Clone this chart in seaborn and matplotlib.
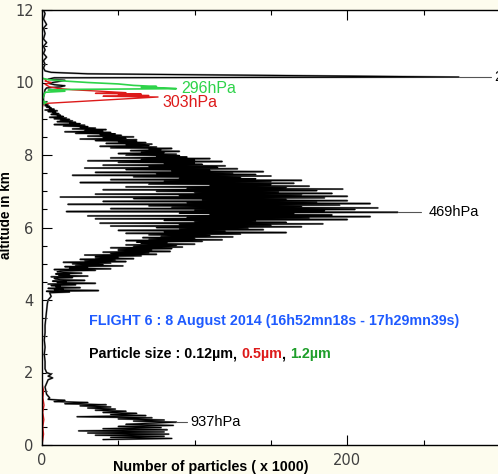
import matplotlib
matplotlib.use("Agg")
import matplotlib.pyplot as plt
from matplotlib.ticker import MultipleLocator
import pandas as pd
import seaborn as sns

# ---- 0.12 um particle counts (x1000) versus altitude (km) ----
alt_012 = [
    # boundary layer
    0.15, 0.18, 0.21, 0.24, 0.27, 0.30, 0.33, 0.36, 0.39, 0.42,
    0.45, 0.48, 0.51, 0.54, 0.57, 0.60, 0.63, 0.66, 0.69, 0.72,
    0.75, 0.78, 0.81, 0.84, 0.87, 0.90, 0.93, 0.96, 0.99, 1.02,
    1.05, 1.08, 1.11, 1.14, 1.17, 1.20, 1.23, 1.26,
    # clean free troposphere
    1.30, 1.40, 1.50, 1.60, 1.70, 1.80, 1.85, 1.90, 1.95, 2.00,
    2.10, 2.30, 2.50, 2.70, 2.90, 3.10, 3.30, 3.50, 3.70, 3.90,
    4.00, 4.10,
    # mid-tropospheric layer
    4.20, 4.22, 4.24, 4.26, 4.28, 4.30, 4.32, 4.34, 4.36, 4.38,
    4.40, 4.42, 4.44, 4.46, 4.48, 4.50, 4.52, 4.54, 4.56, 4.58,
    4.60, 4.62, 4.64, 4.66, 4.68, 4.70, 4.72, 4.74, 4.76, 4.78,
    4.80, 4.82, 4.84, 4.86, 4.88, 4.90, 4.92, 4.94, 4.96, 4.98,
    5.00, 5.02, 5.04, 5.06, 5.08, 5.10, 5.12, 5.14, 5.16, 5.18,
    5.20, 5.22, 5.24, 5.26, 5.28, 5.30, 5.32, 5.34, 5.36, 5.38,
    5.40, 5.42, 5.44, 5.46, 5.48, 5.50, 5.52, 5.54, 5.56, 5.58,
    5.60, 5.62, 5.64, 5.66, 5.68, 5.70, 5.72, 5.74, 5.76, 5.78,
    5.80, 5.82, 5.84, 5.86, 5.88, 5.90, 5.92, 5.94, 5.96, 5.98,
    6.00, 6.02, 6.04, 6.06, 6.08, 6.10, 6.12, 6.14, 6.16, 6.18,
    6.20, 6.22, 6.24, 6.26, 6.28, 6.30, 6.32, 6.34, 6.36, 6.38,
    6.40, 6.42, 6.44, 6.46, 6.48, 6.50, 6.52, 6.54, 6.56, 6.58,
    6.60, 6.62, 6.64, 6.66, 6.68, 6.70, 6.72, 6.74, 6.76, 6.78,
    6.80, 6.82, 6.84, 6.86, 6.88, 6.90, 6.92, 6.94, 6.96, 6.98,
    7.00, 7.02, 7.04, 7.06, 7.08, 7.10, 7.12, 7.14, 7.16, 7.18,
    7.20, 7.22, 7.24, 7.26, 7.28, 7.30, 7.32, 7.34, 7.36, 7.38,
    7.40, 7.42, 7.44, 7.46, 7.48, 7.50, 7.52, 7.54, 7.56, 7.58,
    7.60, 7.62, 7.64, 7.66, 7.68, 7.70, 7.72, 7.74, 7.76, 7.78,
    7.80, 7.82, 7.84, 7.86, 7.88, 7.90, 7.92, 7.94, 7.96, 7.98,
    8.00, 8.02, 8.04, 8.06, 8.08, 8.10, 8.12, 8.14, 8.16, 8.18,
    8.20, 8.22, 8.24, 8.26, 8.28, 8.30, 8.32, 8.34, 8.36, 8.38,
    8.40, 8.42, 8.44, 8.46, 8.48, 8.50, 8.52, 8.54, 8.56, 8.58,
    8.60, 8.62, 8.64, 8.66, 8.68, 8.70, 8.72, 8.74, 8.76, 8.78,
    8.80, 8.82, 8.84, 8.86, 8.88, 8.90, 8.92, 8.94, 8.96, 8.98,
    9.00, 9.02, 9.04, 9.06, 9.08, 9.10, 9.12, 9.14, 9.16, 9.18,
    9.20, 9.22, 9.24, 9.26, 9.28, 9.30, 9.32, 9.34, 9.36, 9.38,
    9.40,
    # tropopause region and above
    9.50, 9.60, 9.70, 9.80, 9.85, 9.88, 9.91, 9.94, 9.98, 10.02,
    10.06, 10.09, 10.13, 10.15, 10.24, 10.28, 10.32, 10.40, 10.50, 10.60,
    10.70, 10.80, 10.90, 11.00, 11.10, 11.20, 11.35, 11.50, 11.60, 11.75,
    11.90, 12.00,
]
n_012 = [
    40, 85, 45, 80, 35, 83, 30, 80, 24, 82,
    40, 78, 50, 86, 55, 70, 88, 60, 80, 50,
    72, 23, 68, 45, 62, 40, 55, 35, 48, 30,
    45, 25, 42, 15, 30, 8, 15, 4,
    5, 3, 2.5, 2, 3, 4, 7, 4, 6, 3,
    2, 2, 1.5, 2, 1.5, 2, 2, 2.5, 3, 3.5,
    4, 6,
    5, 18, 3, 37, 8, 14, 4, 25, 9, 12,
    6, 22, 4, 35, 10, 16, 7, 28, 12, 9,
    8, 20, 6, 30, 11, 18, 9, 26, 14, 10,
    12, 35, 8, 45, 18, 30, 15, 53, 22, 40,
    20, 45, 14, 55, 28, 48, 25, 60, 35, 50,
    35, 65, 28, 75, 45, 70, 40, 84, 50, 72,
    50, 85, 45, 92, 60, 88, 55, 100, 65, 82,
    62, 105, 55, 118, 70, 100, 66, 125, 78, 110,
    70, 130, 55, 160, 80, 120, 50, 145, 90, 135,
    75, 170, 45, 150, 90, 184, 38, 160, 100, 140,
    80, 200, 35, 175, 95, 215, 30, 190, 110, 165,
    90, 233, 16, 185, 100, 205, 45, 220, 85, 170,
    70, 195, 17, 215, 95, 180, 40, 200, 105, 160,
    60, 185, 12, 200, 90, 170, 35, 190, 100, 155,
    75, 180, 40, 197, 95, 160, 55, 175, 110, 150,
    70, 165, 25, 150, 80, 170, 45, 140, 90, 130,
    60, 150, 20, 140, 75, 125, 35, 145, 85, 110,
    55, 128, 28, 115, 70, 120, 40, 105, 80, 100,
    50, 118, 30, 100, 65, 110, 45, 95, 75, 90,
    55, 88, 50, 80, 65, 90, 58, 78, 70, 85,
    45, 75, 38, 70, 55, 72, 42, 68, 50, 62,
    35, 62, 25, 55, 40, 60, 30, 52, 38, 48,
    22, 45, 15, 40, 28, 42, 20, 35, 25, 30,
    14, 28, 8, 25, 18, 22, 10, 20, 12, 18,
    8, 16, 5, 14, 10, 12, 6, 11, 7, 9,
    4, 10, 2, 8, 5, 6, 3, 5, 2, 4,
    2,
    1, 1, 1.5, 2, 3, 12, 15, 8, 4, 10,
    15, 4, 8, 273, 30, 6, 2, 1, 2, 1,
    3, 1, 2, 1, 3, 1, 2, 1, 3, 1,
    2, 1,
]

# ---- 0.5 um particle counts ----
alt_05 = [0.0, 0.3, 0.5, 0.7, 0.9, 1.1, 1.3, 1.5, 1.7,
          9.30, 9.42, 9.60, 9.62, 9.64, 9.66, 9.68, 9.70, 9.72, 9.76,
          9.80, 9.84, 9.88, 9.95, 10.00, 10.04, 10.08, 10.12, 12.0]
n_05 = [0, 1, 0.5, 1.2, 0.5, 1.3, 0.6, 1, 0,
        0, 1, 76, 40, 70, 50, 65, 35, 55, 38,
        20, 10, 5, 2, 6, 2, 3, 0, 0]

# ---- 1.2 um particle counts ----
alt_12 = [0.0, 9.40, 9.45, 9.50, 9.73, 9.76, 9.79, 9.81, 9.83, 9.85,
          9.87, 9.89, 9.92, 9.96, 10.00, 10.04, 10.08, 10.12, 12.0]
n_12 = [0, 0, 3, 0, 2, 15, 4, 20, 88, 80,
        65, 75, 60, 50, 30, 15, 4, 0, 0]

# ---- peak annotations ----
peak_labels = ["937hPa", "469hPa", "303hPa", "296hPa", "265hPa"]
peak_n = [88, 233, 76, 88, 273]
peak_alt = [0.63, 6.42, 9.60, 9.83, 10.15]

x_ticks = [0, 200]
y_ticks = [0, 2, 4, 6, 8, 10, 12]

sns.set_style("ticks")
plt.rcParams["font.family"] = ["Liberation Sans", "DejaVu Sans"]

fig = plt.figure(figsize=(4.98, 4.74), dpi=100, facecolor="#fdfcee")
ax = fig.add_axes([42 / 498, 1 - 445 / 474, 458 / 498, 435 / 474])
ax.set_facecolor("white")

d012 = pd.DataFrame({"n": n_012, "alt": alt_012})
d05 = pd.DataFrame({"n": n_05, "alt": alt_05})
d12 = pd.DataFrame({"n": n_12, "alt": alt_12})

sns.lineplot(data=d012, x="n", y="alt", sort=False, estimator=None,
             color="#8c8c8c", lw=1.4, ax=ax)
sns.lineplot(data=d012, x="n", y="alt", sort=False, estimator=None,
             color="black", lw=0.8, ax=ax)
sns.lineplot(data=d05, x="n", y="alt", sort=False, estimator=None,
             color="#dd1a1a", lw=1.0, ax=ax)
sns.lineplot(data=d12, x="n", y="alt", sort=False, estimator=None,
             color="#2ed34a", lw=1.2, ax=ax)

ax.set_xlim(0, 300)
ax.set_ylim(0, 12)
ax.set_xticks(x_ticks)
ax.set_yticks(y_ticks)
ax.xaxis.set_minor_locator(MultipleLocator(50))
ax.yaxis.set_minor_locator(MultipleLocator(0.5))
ax.tick_params(which="both", direction="in", top=True, right=False,
               width=0.8, colors="black", labelcolor="#404040",
               labelsize=10.5)
ax.tick_params(which="major", length=7, pad=6)
ax.tick_params(which="minor", length=3.5)
for lbl in ax.get_xticklabels() + ax.get_yticklabels():
    lbl.set_family("DejaVu Sans")
for sp in ax.spines.values():
    sp.set_color("black")
    sp.set_linewidth(1.0)

ax.set_xlabel("Number of particles ( x 1000)", fontsize=10.3,
              fontweight="bold", color="black")
ax.xaxis.set_label_coords(0.369, -0.035)
ax.set_ylabel("altitude in km", fontsize=9.8, fontweight="bold",
              color="black")
ax.yaxis.set_label_coords(-0.064, 0.529)

# leader lines and pressure labels
lead = {"937hPa": (95, 97, 0.63, "black", 10.5),
        "469hPa": (248, 253, 6.42, "black", 10.5),
        "303hPa": (None, 79, 9.45, "#dd1a1a", 11.5),
        "296hPa": (None, 91, 9.83, "#2ed34a", 11.5),
        "265hPa": (294, 296, 10.15, "black", 10.5)}
for name, n, a in zip(peak_labels, peak_n, peak_alt):
    x_end, x_txt, y_txt, col, fs = lead[name]
    if x_end is not None:
        ax.plot([n, x_end], [a, a], color="#555555", lw=0.8)
    ax.text(x_txt, y_txt, name, color=col, fontsize=fs, va="center",
            ha="left", clip_on=False)

ax.text(31, 3.42, "FLIGHT 6 : 8 August 2014 (16h52mn18s - 17h29mn39s)",
        color="#1f5bff", fontsize=10.3, fontweight="bold", va="center")

size_parts = [("Particle size : 0.12µm", "black"), (", ", "black"),
              ("0.5µm", "#dd1a1a"), (", ", "black"), ("1.2µm", "#1e9e2a")]
prev = ax.text(31, 2.51, size_parts[0][0], color=size_parts[0][1],
               fontsize=10.3, fontweight="bold", va="center")
for txt, col in size_parts[1:]:
    prev = ax.annotate(txt, xy=(1, 0), xycoords=prev, va="bottom",
                       ha="left", color=col, fontsize=10.3,
                       fontweight="bold")

fig.savefig("out.png", dpi=100, facecolor=fig.get_facecolor())
